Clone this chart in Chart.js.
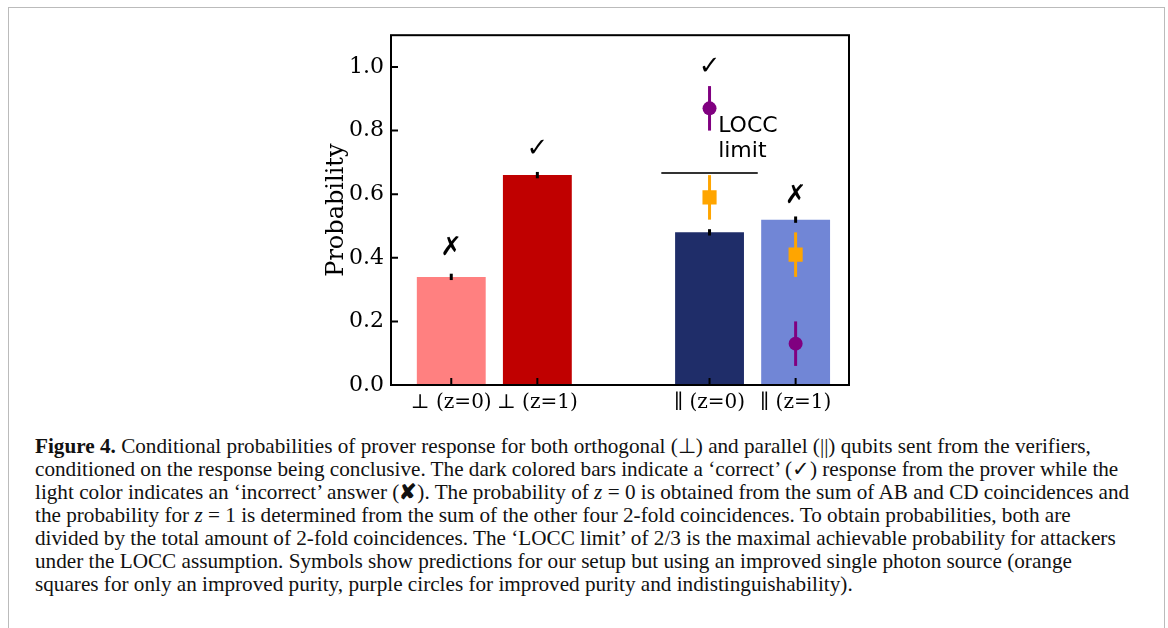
<!DOCTYPE html>
<html>
<head>
    <title>Figure 4 - Conditional probabilities</title>
    <script src="https://cdn.jsdelivr.net/npm/chart.js"></script>
    <style>
        body {margin: 0; background: #fff;}
        #frame {position: absolute; left: 8px; top: 7px; width: 1155px; height: 640px; border: 1px solid #bbb; border-bottom: none;}
        #chartBox {position: absolute; left: 300px; top: 15px; width: 560px; height: 410px;}
        #caption {position: absolute; left: 35px; top: 435px; font: 21.2px "Liberation Serif", serif; line-height: 23px; color: #111;}
        #caption div {white-space: nowrap;}
    </style>
</head>
<body>
    <div id="frame"></div>
    <div id="chartBox"><canvas id="myChart"></canvas></div>
    <div id="caption">
        <div><b>Figure 4.</b> Conditional probabilities of prover response for both orthogonal (⊥) and parallel (||) qubits sent from the verifiers,</div>
        <div>conditioned on the response being conclusive. The dark colored bars indicate a ‘correct’ (✓) response from the prover while the</div>
        <div>light color indicates an ‘incorrect’ answer (<b>✘</b>). The probability of <i>z</i> = 0 is obtained from the sum of AB and CD coincidences and</div>
        <div>the probability for <i>z</i> = 1 is determined from the sum of the other four 2-fold coincidences. To obtain probabilities, both are</div>
        <div>divided by the total amount of 2-fold coincidences. The ‘LOCC limit’ of 2/3 is the maximal achievable probability for attackers</div>
        <div>under the LOCC assumption. Symbols show predictions for our setup but using an improved single photon source (orange</div>
        <div>squares for only an improved purity, purple circles for improved purity and indistinguishability).</div>
    </div>
    <script>
        // bar positions and labels
        var positions = [0, 1, 3, 4];
        var tickLabels = ['⊥ (z=0)', '⊥ (z=1)', '∥ (z=0)', '∥ (z=1)'];
        var barValues = [0.34, 0.66, 0.48, 0.52];
        var barErrors = [0.01, 0.01, 0.01, 0.01];
        var barColors = ['#ff8080', '#c00000', '#1f2d69', '#7186d6'];

        // predictions (only for parallel qubits)
        var purityPos = [3, 4];
        var purityValues = [0.59, 0.41];
        var purityErrors = [0.07, 0.07];
        var fullPos = [3, 4];
        var fullValues = [0.87, 0.13];
        var fullErrors = [0.07, 0.07];

        var loccLimit = 2 / 3;
        var loccSpan = [2.44, 3.56];

        // check / cross marks above the bars
        var markSymbols = ['✗', '✓', '✓', '✗'];
        var markPos = [0, 1, 3, 4];
        var markHeights = [0.43, 0.74, 1.0, 0.595];

        var yTicks = [0, 0.2, 0.4, 0.6, 0.8, 1.0];

        function errLine(ctx, xs, ys, x, y, err, color, w) {
            var px = xs.getPixelForValue(x);
            ctx.strokeStyle = color;
            ctx.lineWidth = w;
            ctx.beginPath();
            ctx.moveTo(px, ys.getPixelForValue(y - err));
            ctx.lineTo(px, ys.getPixelForValue(y + err));
            ctx.stroke();
        }

        var extras = {
            id: 'extras',
            afterDatasetDraw: function(chart, args) {
                var ctx = chart.ctx, xs = chart.scales.x, ys = chart.scales.y;
                ctx.save();
                if (args.index === 0) {
                    for (var i = 0; i < positions.length; i++)
                        errLine(ctx, xs, ys, positions[i], barValues[i], barErrors[i], '#000', 3);
                }
                if (args.index === 2) {
                    for (var i = 0; i < purityPos.length; i++)
                        errLine(ctx, xs, ys, purityPos[i], purityValues[i], purityErrors[i], '#ffa500', 3);
                }
                if (args.index === 3) {
                    for (var i = 0; i < fullPos.length; i++)
                        errLine(ctx, xs, ys, fullPos[i], fullValues[i], fullErrors[i], '#800080', 3);
                }
                ctx.restore();
            },
            afterDraw: function(chart) {
                var ctx = chart.ctx, a = chart.chartArea, xs = chart.scales.x, ys = chart.scales.y;
                ctx.save();
                // frame
                ctx.strokeStyle = '#000';
                ctx.lineWidth = 2;
                ctx.strokeRect(a.left, a.top, a.right - a.left, a.bottom - a.top);
                // inward ticks
                ctx.lineWidth = 2;
                ctx.beginPath();
                yTicks.forEach(function(v) {
                    var py = ys.getPixelForValue(v);
                    ctx.moveTo(a.left, py);
                    ctx.lineTo(a.left + 7, py);
                });
                positions.forEach(function(v) {
                    var px = xs.getPixelForValue(v);
                    ctx.moveTo(px, a.bottom);
                    ctx.lineTo(px, a.bottom - 7);
                });
                ctx.stroke();
                // check and cross marks
                ctx.fillStyle = '#000';
                ctx.textAlign = 'center';
                ctx.textBaseline = 'middle';
                ctx.font = 'bold 26px "DejaVu Sans"';
                for (var i = 0; i < markSymbols.length; i++) {
                    ctx.fillText(markSymbols[i], xs.getPixelForValue(markPos[i]), ys.getPixelForValue(markHeights[i]));
                }
                // LOCC label
                ctx.textAlign = 'left';
                ctx.font = '22px "DejaVu Sans"';
                ctx.fillText('LOCC', xs.getPixelForValue(3.1), ys.getPixelForValue(0.815));
                ctx.fillText('limit', xs.getPixelForValue(3.1), ys.getPixelForValue(0.735));
                ctx.restore();
            }
        };

        var ctx = document.getElementById('myChart').getContext('2d');
        new Chart(ctx, {
            type: 'bar',
            data: {
                datasets: [
                    {
                        type: 'bar',
                        data: positions.map(function(p, i) { return {x: p, y: barValues[i]}; }),
                        backgroundColor: barColors,
                        barPercentage: 0.8,
                        categoryPercentage: 1.0,
                        order: 4
                    },
                    {
                        type: 'line',
                        data: [{x: loccSpan[0], y: loccLimit}, {x: loccSpan[1], y: loccLimit}],
                        borderColor: '#333',
                        borderWidth: 2,
                        pointRadius: 0,
                        order: 3
                    },
                    {
                        type: 'scatter',
                        data: purityPos.map(function(p, i) { return {x: p, y: purityValues[i]}; }),
                        pointStyle: 'rect',
                        pointRadius: 10,
                        backgroundColor: '#ffa500',
                        borderWidth: 0,
                        order: 2
                    },
                    {
                        type: 'scatter',
                        data: fullPos.map(function(p, i) { return {x: p, y: fullValues[i]}; }),
                        pointStyle: 'circle',
                        pointRadius: 7,
                        backgroundColor: '#800080',
                        borderWidth: 0,
                        order: 1
                    }
                ]
            },
            options: {
                responsive: true,
                maintainAspectRatio: false,
                animation: false,
                layout: {padding: {top: 0, right: 11, left: 0, bottom: 0}},
                plugins: {legend: {display: false}, tooltip: {enabled: false}},
                scales: {
                    x: {
                        type: 'linear',
                        min: -0.70,
                        max: 4.62,
                        offset: false,
                        grid: {display: false, drawTicks: false},
                        border: {display: false},
                        afterBuildTicks: function(s) { s.ticks = positions.map(function(v) { return {value: v}; }); },
                        afterFit: function(s) { s.height = 40; },
                        ticks: {
                            autoSkip: false,
                            maxRotation: 0,
                            padding: 6,
                            color: '#000',
                            font: {family: '"DejaVu Serif"', size: 20},
                            callback: function(v) { return tickLabels[positions.indexOf(v)]; }
                        }
                    },
                    y: {
                        min: 0,
                        max: 1.1,
                        grid: {display: false, drawTicks: false},
                        border: {display: false},
                        afterBuildTicks: function(s) { s.ticks = yTicks.map(function(v) { return {value: v}; }); },
                        afterFit: function(s) { s.width = 91; },
                        ticks: {
                            padding: 7,
                            color: '#000',
                            font: {family: '"DejaVu Serif"', size: 22},
                            callback: function(v) { return v.toFixed(1); }
                        },
                        title: {
                            display: true,
                            text: 'Probability',
                            color: '#000',
                            padding: {top: 22, bottom: 2},
                            font: {family: '"DejaVu Serif"', size: 24}
                        }
                    }
                }
            },
            plugins: [extras]
        });
    </script>
</body>
</html>
